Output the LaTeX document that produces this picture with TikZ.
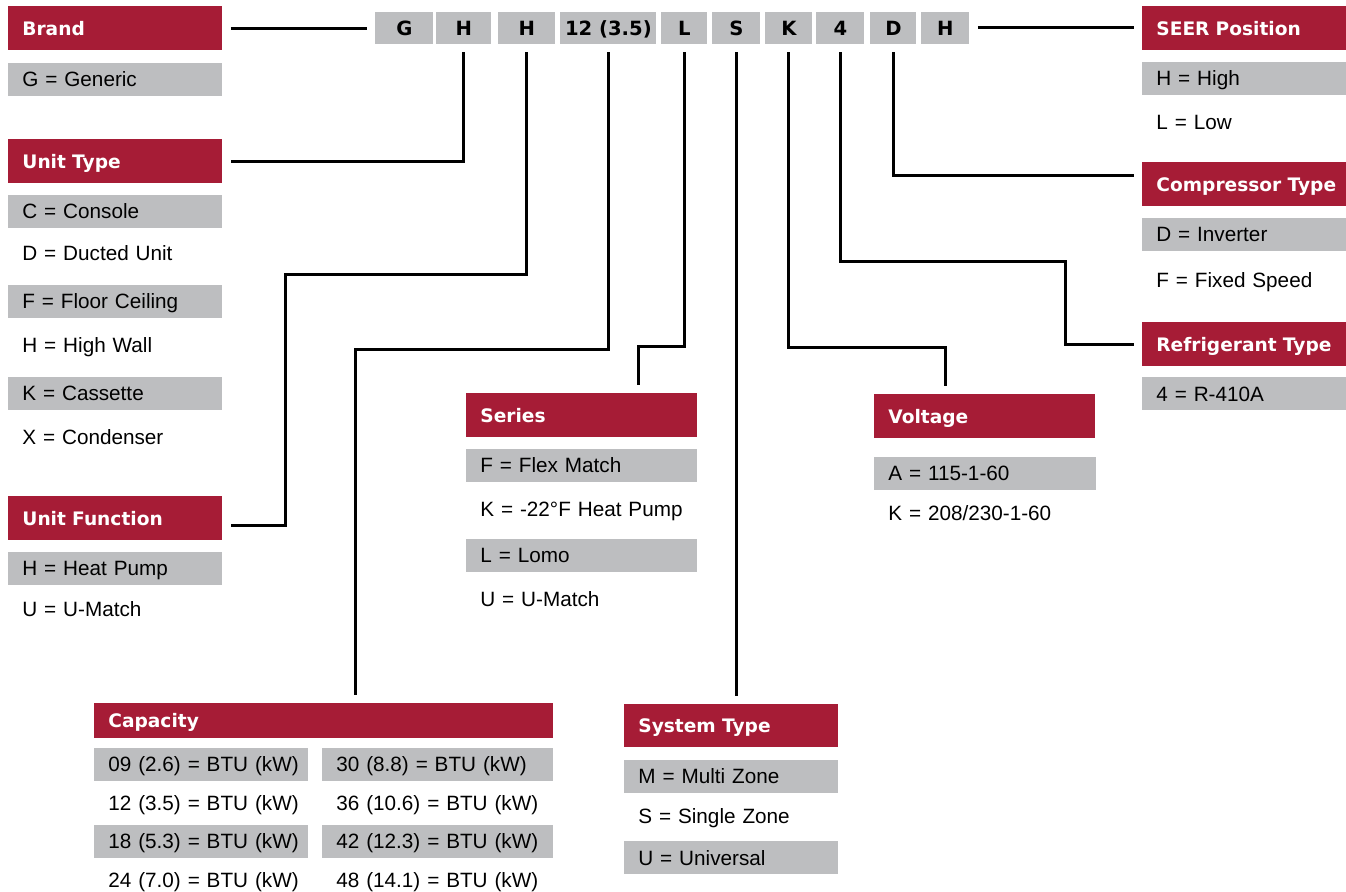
\documentclass[tikz,border=0pt]{standalone}
\usepackage{fontspec}
\setmainfont{Liberation Sans}
\newfontfamily\headfam{DejaVu Sans}
\usepackage{tikz}

\definecolor{crimson}{RGB}{166,28,54}
\definecolor{boxgrey}{RGB}{189,190,192}

\newcommand\rowfont{\fontsize{10.35}{12}\selectfont}
\newcommand\headfont{\headfam\bfseries\fontsize{9.3}{11}\selectfont}
\newcommand\codefont{\headfam\bfseries\fontsize{9.8}{11}\selectfont}

\begin{document}
\begin{tikzpicture}[
  x=0.5pt, y=-0.5pt,
  heading/.style={fill=crimson, text=white, font=\headfont, anchor=north west, inner xsep=0pt, inner ysep=0pt, minimum height=22pt, text height=8.8pt, text depth=2pt, text width=#1, align=left, execute at begin node={\hspace*{7pt}}},
  itemrow/.style={font=\rowfont, anchor=west, inner xsep=0pt, inner ysep=0pt, minimum height=16.5pt, text height=9.4pt, text depth=2pt, text width=#1, align=left, execute at begin node={\hspace*{7pt}}},
  codebox/.style={fill=boxgrey, font=\codefont, anchor=west, inner sep=0pt, minimum height=16pt, text height=9.1pt, text depth=2pt},
  conn/.style={line width=1.5pt, shorten <=4pt, shorten >=4pt},
]
\useasboundingbox (0,0) rectangle (1346,892);

% Model number
\foreach \n/\x/\w/\txt in {cG/375/58/G, cH1/436/55/H, cH2/498/57/H, c12/560/96/{12 (3.5)}, cL/661/46/L, cS/712/48/S, cK/765/47/K, c4/816/48/4, cD/870/46/D, cH3/921/48/H}
  \node[codebox, minimum width=\w*0.5pt] (\n) at (\x,28) {\txt};

% Left column
\node[heading=107pt] (brand) at (8,6) {Brand};
\node[itemrow=107pt, fill=boxgrey] (brand1) at (8,79.5) {G = Generic};

\node[heading=107pt] (unittype) at (8,139) {Unit Type};
\foreach \fc/\y/\txt [count=\i] in {boxgrey/211.5/C = Console, white/253.5/D = Ducted Unit, boxgrey/301.5/F = Floor Ceiling, white/345.5/H = High Wall, boxgrey/393.5/K = Cassette, white/437.5/X = Condenser}
  \node[itemrow=107pt, fill=\fc] (unittype\i) at (8,\y) {\txt};

\node[heading=107pt] (unitfn) at (8,496) {Unit Function};
\node[itemrow=107pt, fill=boxgrey] (unitfn1) at (8,568.5) {H = Heat Pump};
\node[itemrow=107pt] (unitfn2) at (8,609) {U = U-Match};

% Middle
\node[heading=115.5pt] (series) at (466,393) {Series};
\foreach \fc/\y/\txt [count=\i] in {boxgrey/465.5/F = Flex Match, white/509/K = -22°F Heat Pump, boxgrey/555.5/L = Lomo, white/599/U = U-Match}
  \node[itemrow=115.5pt, fill=\fc] (series\i) at (466,\y) {\txt};

\node[heading=110.5pt] (voltage) at (874,394) {Voltage};
\node[itemrow=111pt, fill=boxgrey] (voltage1) at (874,473.5) {A = 115-1-60};
\node[itemrow=111pt] (voltage2) at (874,513) {K = 208/230-1-60};

% Bottom
\node[heading=229.5pt, minimum height=17.5pt] (capacity) at (94,703) {Capacity};
\foreach \fc/\y/\ltxt/\rtxt [count=\i] in {boxgrey/764.5/09 (2.6)/30 (8.8), white/803/12 (3.5)/36 (10.6), boxgrey/841.5/18 (5.3)/42 (12.3), white/880/24 (7.0)/48 (14.1)}
{
  \node[itemrow=107pt, fill=\fc] (capl\i) at (94,\y) {\ltxt{} = BTU (kW)};
  \node[itemrow=115.5pt, fill=\fc] (capr\i) at (322,\y) {\rtxt{} = BTU (kW)};
}

\node[heading=107pt, minimum height=21.5pt] (system) at (624,704) {System Type};
\foreach \fc/\y/\txt [count=\i] in {boxgrey/776.5/M = Multi Zone, white/816/S = Single Zone, boxgrey/858/U = Universal}
  \node[itemrow=107pt, fill=\fc] (system\i) at (624,\y) {\txt};

% Right column
\node[heading=102pt] (seer) at (1142,6) {SEER Position};
\node[itemrow=102pt, fill=boxgrey] (seer1) at (1142,78.5) {H = High};
\node[itemrow=102pt] (seer2) at (1142,122) {L = Low};

\node[heading=102pt] (compressor) at (1142,162) {Compressor Type};
\node[itemrow=102pt, fill=boxgrey] (compressor1) at (1142,234.5) {D = Inverter};
\node[itemrow=102pt] (compressor2) at (1142,280) {F = Fixed Speed};

\node[heading=102pt] (refrig) at (1142,322) {Refrigerant Type};
\node[itemrow=102pt, fill=boxgrey] (refrig1) at (1142,394) {4 = R-410A};

% Connectors
\coordinate (fnbend)   at (285,275);
\coordinate (capbend)  at (355,350);
\coordinate (serbend)  at (638,347);
\coordinate (voltbend) at (945,348);
\coordinate (refbend)  at (1065,262);

\draw[conn] (brand.east) -- (brand.east -| cG.west);
\draw[conn] (cH1.south) |- (unittype.east);
\draw[conn] (cH2.south) |- (fnbend) |- ([yshift=-3.5pt]unitfn.east);
\draw[conn] (c12.south) |- (capbend) -- (capbend |- capacity.north);
\draw[conn] (cL.south) |- (serbend) -- (serbend |- series.north);
\draw[conn] (cS.south) -- (cS.south |- system.north);
\draw[conn] (cK.south) |- (voltbend) -- (voltbend |- voltage.north);
\draw[conn] (c4.south) |- (refbend) |- (refrig.west);
\draw[conn] (cD.south) |- ([yshift=4.5pt]compressor.west);
\draw[conn] (cH3.east) -- (cH3.east -| seer.west);

\end{tikzpicture}
\end{document}
